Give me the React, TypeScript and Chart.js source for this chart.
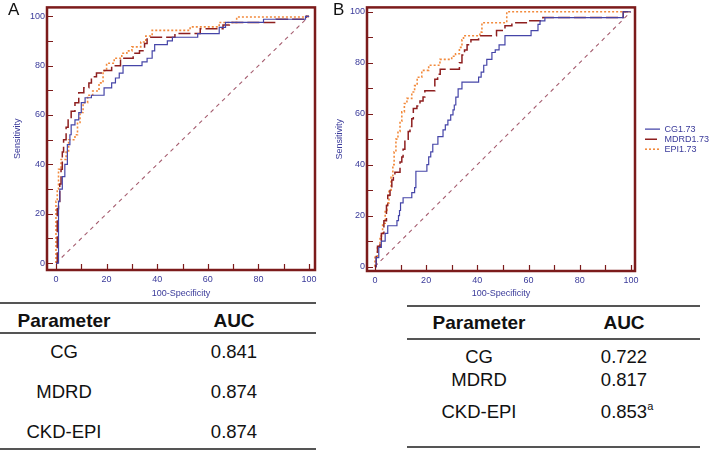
import React, { useEffect, useRef } from "react";
import { Chart, registerables } from "chart.js";

Chart.register(...registerables);

const FONT = "'Liberation Sans', Arial, Helvetica, sans-serif";
const AXIS_TEXT = "#3a3a9a";
const FRAME = "#7c1b1b";
const CG_COLOR = "#4545a8";
const MDRD_COLOR = "#8e1f1f";
const EPI_COLOR = "#f28a3c";
const REF_COLOR = "#a65e70";

// ---- axes ----
const majorTicks = [0, 20, 40, 60, 80, 100];
const minorTicks = [0, 10, 20, 30, 40, 50, 60, 70, 80, 90, 100];
const seriesLabels = ["CG1.73", "MDRD1.73", "EPI1.73"];
const xTitle = "100-Specificity";
const yTitle = "Sensitivity";

// reference diagonal
const refX = [0, 100];
const refY = [0, 100];

// ---- Panel A (x = 100-Specificity at which sensitivity rises, y = new sensitivity) ----
const aCgX = [0, 1, 1.5, 2.5, 3.5, 4.5, 5.5, 6, 7.5, 9, 10, 11.5, 14, 19, 22, 23.5, 25, 26.5, 34, 36, 38, 39, 44, 46, 56, 64.5, 67, 82, 98.6, 100];
const aCgY = [0, 25, 30, 35, 40, 48, 52, 56, 58, 61, 65, 67, 68, 71, 73, 75, 77, 80, 81.5, 83, 86, 88.5, 90, 91.5, 93, 95.5, 97.5, 98.8, 100, 100];

const aMdX = [0, 0.5, 1, 1.5, 2, 2.5, 3, 4, 4.8, 6, 7.5, 9, 11, 13, 14, 16, 19, 22, 25.5, 30.5, 33, 35, 36, 47, 57, 66, 68.5, 87, 99, 100];
const aMdY = [0, 22, 25, 32, 38, 45, 50, 55, 58, 61.5, 65, 69, 71, 73, 75.5, 77, 78, 80, 83, 85, 86, 89, 91.5, 93, 95, 96.5, 97.5, 98.8, 100, 100];

const aEpX = [0, 0, 0.5, 1, 2, 4, 5, 7.5, 8.5, 9.5, 10.7, 12.5, 14.5, 17, 18.6, 20, 23, 26, 28, 30, 33.5, 35.5, 38, 53, 64.5, 71.4, 99, 100];
const aEpY = [0, 25, 30, 38, 42, 45, 50, 52, 57, 61, 65, 68, 69.7, 73, 78, 81, 83, 85, 86, 87.6, 89.6, 92, 94.3, 95.7, 97.5, 99.7, 100, 100];

// ---- Panel B ----
const bCgX = [0, 0.5, 1.5, 2.5, 4, 5, 8.6, 9.2, 9.6, 10, 11, 14.4, 15.5, 16, 20.3, 21, 21.8, 22.6, 24.6, 26.6, 27.5, 28.5, 29.6, 30.5, 31, 31.6, 32.5, 34, 40.5, 41.5, 42.5, 43.7, 45.7, 47, 48.5, 50.8, 61, 63.7, 64.5, 66.4, 97, 100];
const bCgY = [0, 3.5, 7.5, 10, 13, 16, 18, 20, 22, 25, 27, 29, 31, 37.4, 40, 43, 45, 48, 51, 53.6, 55.6, 57.5, 59.5, 61.5, 63.4, 66.5, 69.7, 72.4, 74.3, 76.3, 79, 81.3, 84, 85, 87, 90.6, 92.6, 95, 96.4, 97.7, 100, 100];

const bMdX = [0, 0.5, 1, 2, 2.5, 3.5, 4.5, 5, 5.9, 6.6, 7.2, 7.8, 9.8, 10.5, 11, 11.7, 13, 13.7, 14.4, 15, 16.4, 17.6, 18.8, 19.5, 23.4, 24.5, 25.5, 33, 34, 35, 36, 37.5, 40.5, 47.5, 50.8, 53.5, 59.5, 65.6, 97, 100];
const bMdY = [0, 5, 8, 10, 13, 18, 24, 28, 31, 34, 36, 37, 41, 43, 46, 50, 53, 55, 58, 62, 63, 65, 66.5, 69, 73.5, 75.5, 77.4, 80, 83, 85, 87, 89, 90.6, 92.6, 94.5, 95.7, 96.5, 97.7, 100, 100];

const bEpX = [0, 0, 1, 2, 3, 4, 4.7, 5.5, 6.3, 7, 7.5, 8.2, 9, 9.8, 10.5, 11.5, 12.5, 14.4, 15.5, 16.5, 18.3, 21, 25.4, 30, 31.5, 33, 34, 34.6, 41, 41.8, 51.5, 100];
const bEpY = [0, 4, 8, 12, 17, 22, 25, 30, 35, 40, 45, 50, 53, 57, 60.7, 64, 66, 68.5, 71, 74.3, 77, 79, 81.3, 82.5, 83.5, 86, 89, 90.6, 92, 95.7, 100, 100];

// ---- tables ----
const tableHeader = ["Parameter", "AUC"];
const tableParams = ["CG", "MDRD", "CKD-EPI"];
const aucA = ["0.841", "0.874", "0.874"];
const aucB = ["0.722", "0.817", "0.853"];
const aucBNotes = ["", "", "a"];

const seriesStyles = [
  { color: CG_COLOR, dash: [] as number[], width: 1.2 },
  { color: MDRD_COLOR, dash: [12, 4], width: 1.5 },
  { color: EPI_COLOR, dash: [2, 2], width: 1.6 },
];

const toPoints = (xs: number[], ys: number[]) => xs.map((x, i) => ({ x, y: ys[i] }));

const framePlugin = {
  id: "rocFrame",
  afterDatasetsDraw(chart: any) {
    const { ctx, chartArea: a, scales } = chart;
    const xs = scales.x;
    const ys = scales.y;
    ctx.save();
    ctx.strokeStyle = FRAME;
    ctx.lineWidth = 1.2;
    ctx.beginPath();
    minorTicks.forEach((v) => {
      const px = Math.round(xs.getPixelForValue(v)) + 0.5;
      ctx.moveTo(px, a.bottom);
      ctx.lineTo(px, a.bottom - 6);
      const py = Math.round(ys.getPixelForValue(v)) + 0.5;
      ctx.moveTo(a.left, py);
      ctx.lineTo(a.left + 6, py);
    });
    ctx.stroke();
    ctx.lineWidth = 2.5;
    ctx.strokeRect(a.left, a.top, a.right - a.left, a.bottom - a.top);
    ctx.restore();
  },
};

type PanelOpts = {
  series: { x: number[]; y: number[] }[];
  xMin: number;
  xMax: number;
  yMin: number;
  yMax: number;
  yAxisWidth: number;
  xAxisHeight: number;
  yTitlePad: number;
  padding: { left: number; right: number; top: number; bottom: number };
  legend: boolean;
};

function buildChart(canvas: HTMLCanvasElement, o: PanelOpts) {
  const datasets: any[] = o.series.map((s, i) => ({
    label: seriesLabels[i],
    data: toPoints(s.x, s.y),
    showLine: true,
    stepped: "before",
    borderColor: seriesStyles[i].color,
    backgroundColor: seriesStyles[i].color,
    borderWidth: seriesStyles[i].width,
    borderDash: seriesStyles[i].dash,
    pointRadius: 0,
    pointHoverRadius: 0,
    fill: false,
  }));
  datasets.push({
    label: "",
    data: toPoints(refX, refY),
    showLine: true,
    borderColor: REF_COLOR,
    backgroundColor: REF_COLOR,
    borderWidth: 1.1,
    borderDash: [4, 4],
    pointRadius: 0,
    fill: false,
  });

  const tickFont = { size: 9, family: FONT };
  const scales: any = {
    x: {
      type: "linear",
      min: o.xMin,
      max: o.xMax,
      afterBuildTicks: (s: any) => {
        s.ticks = majorTicks.map((v) => ({ value: v }));
      },
      afterFit: (s: any) => {
        s.height = o.xAxisHeight;
      },
      grid: { display: false, drawTicks: false },
      border: { display: false },
      ticks: { color: AXIS_TEXT, font: tickFont, padding: 4, maxRotation: 0, autoSkip: false },
      title: { display: true, text: xTitle, color: AXIS_TEXT, font: tickFont, padding: { top: 0, bottom: 1.5 } },
    },
    y: {
      type: "linear",
      min: o.yMin,
      max: o.yMax,
      afterBuildTicks: (s: any) => {
        s.ticks = majorTicks.map((v) => ({ value: v }));
      },
      afterFit: (s: any) => {
        s.width = o.yAxisWidth;
      },
      grid: { display: false, drawTicks: false },
      border: { display: false },
      ticks: { color: AXIS_TEXT, font: tickFont, padding: 2, autoSkip: false },
      title: { display: true, text: yTitle, color: AXIS_TEXT, font: tickFont, padding: { top: o.yTitlePad, bottom: 0 } },
    },
  };
  if (o.legend) {
    scales.y2 = {
      type: "linear",
      position: "right",
      display: true,
      grid: { display: false, drawTicks: false },
      border: { display: false },
      ticks: { display: false },
      afterFit: (s: any) => {
        s.width = 9;
      },
    };
  }

  return new Chart(canvas, {
    type: "scatter",
    data: { datasets },
    options: {
      responsive: false,
      animation: false,
      events: [],
      layout: { padding: o.padding },
      scales,
      plugins: {
        tooltip: { enabled: false },
        legend: {
          display: o.legend,
          position: "right",
          fullSize: false,
          align: "center",
          maxWidth: 66,
          labels: {
            usePointStyle: true,
            pointStyle: "line",
            pointStyleWidth: 15,
            boxHeight: 9,
            padding: 1,
            color: AXIS_TEXT,
            font: { size: 9, family: FONT },
            generateLabels: (chart: any) => {
              const items = (Chart as any).defaults.plugins.legend.labels.generateLabels(chart);
              return items
                .filter((it: any) => it.datasetIndex < 3)
                .map((it: any) => {
                  const ds = chart.data.datasets[it.datasetIndex];
                  return {
                    ...it,
                    lineDash: ds.borderDash,
                    lineWidth: ds.borderWidth,
                    strokeStyle: ds.borderColor,
                    fillStyle: "rgba(0,0,0,0)",
                    pointStyle: "line",
                  };
                });
            },
          },
        },
      },
    } as any,
    plugins: [framePlugin as any],
  });
}

function RocPanel(props: { opts: PanelOpts; left: number; width: number; height: number }) {
  const ref = useRef<HTMLCanvasElement | null>(null);
  useEffect(() => {
    if (!ref.current) return;
    const chart = buildChart(ref.current, props.opts);
    return () => chart.destroy();
  }, []);
  return (
    <canvas
      ref={ref}
      width={props.width}
      height={props.height}
      style={{ position: "absolute", left: props.left, top: 0, width: props.width, height: props.height }}
    />
  );
}

const panelA: PanelOpts = {
  series: [
    { x: aCgX, y: aCgY },
    { x: aMdX, y: aMdY },
    { x: aEpX, y: aEpY },
  ],
  xMin: -3.55,
  xMax: 102.35,
  yMin: -2.8,
  yMax: 103.6,
  yAxisWidth: 47,
  xAxisHeight: 30,
  yTitlePad: 12.6,
  padding: { left: 0, right: 15, top: 3, bottom: 0 },
  legend: false,
};

const panelB: PanelOpts = {
  series: [
    { x: bCgX, y: bCgY },
    { x: bMdX, y: bMdY },
    { x: bEpX, y: bEpY },
  ],
  xMin: -3.1,
  xMax: 101.6,
  yMin: -1.75,
  yMax: 101.7,
  yAxisWidth: 37,
  xAxisHeight: 29,
  yTitlePad: 4,
  padding: { left: 0, right: 2, top: 4, bottom: 0 },
  legend: true,
};

type TableGeom = {
  left: number;
  right: number;
  lines: number[];
  headerY: number;
  rowY: number[];
  col1: number;
  col2: number;
};

function Cell(props: { cx: number; cy: number; bold?: boolean; text: string; note?: string }) {
  return (
    <div
      style={{
        position: "absolute",
        left: props.cx - 70,
        top: props.cy - 11,
        width: 140,
        height: 22,
        lineHeight: "22px",
        textAlign: "center",
        fontFamily: FONT,
        fontSize: props.bold ? 19 : 18.5,
        fontWeight: props.bold ? "bold" : "normal",
        color: "#111",
        whiteSpace: "nowrap",
      }}
    >
      <span style={{ position: "relative" }}>
        {props.text}
        {props.note ? (
          <span style={{ position: "absolute", left: "100%", top: -6, fontSize: 11 }}>{props.note}</span>
        ) : null}
      </span>
    </div>
  );
}

function AucTable(props: { g: TableGeom; auc: string[]; notes?: string[] }) {
  const { g } = props;
  return (
    <>
      {g.lines.map((y, i) => (
        <div
          key={"l" + i}
          style={{ position: "absolute", left: g.left, top: y - 1, width: g.right - g.left, height: 2, background: "#555" }}
        />
      ))}
      <Cell cx={g.col1} cy={g.headerY} bold text={tableHeader[0]} />
      <Cell cx={g.col2} cy={g.headerY} bold text={tableHeader[1]} />
      {tableParams.map((p, i) => (
        <React.Fragment key={p}>
          <Cell cx={g.col1} cy={g.rowY[i]} text={p} />
          <Cell cx={g.col2} cy={g.rowY[i]} text={props.auc[i]} note={props.notes ? props.notes[i] : undefined} />
        </React.Fragment>
      ))}
    </>
  );
}

const tableAGeom: TableGeom = {
  left: 0,
  right: 316,
  lines: [303, 333, 449],
  headerY: 321,
  rowY: [352, 392, 432],
  col1: 64,
  col2: 234,
};

const tableBGeom: TableGeom = {
  left: 407,
  right: 700,
  lines: [306, 339, 447],
  headerY: 323,
  rowY: [357, 380, 412],
  col1: 479,
  col2: 624,
};

export default function App() {
  return (
    <div
      style={{
        position: "absolute",
        left: 0,
        top: 0,
        width: 712,
        height: 452,
        background: "#fff",
        overflow: "hidden",
      }}
    >
      <RocPanel opts={panelA} left={0} width={330} height={300} />
      <RocPanel opts={panelB} left={330} width={382} height={300} />
      <div style={{ position: "absolute", left: 8, top: 0, fontFamily: FONT, fontSize: 17, color: "#111" }}>A</div>
      <div style={{ position: "absolute", left: 333, top: 0, fontFamily: FONT, fontSize: 17, color: "#111" }}>B</div>
      <AucTable g={tableAGeom} auc={aucA} />
      <AucTable g={tableBGeom} auc={aucB} notes={aucBNotes} />
    </div>
  );
}
